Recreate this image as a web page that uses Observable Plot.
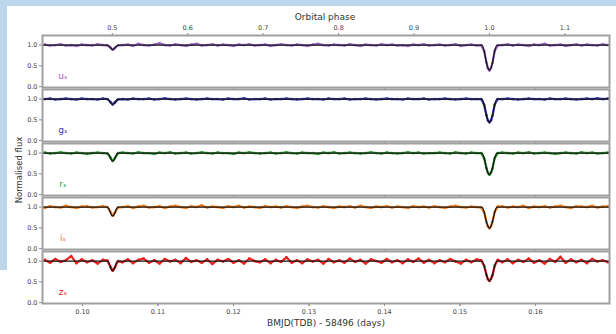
<!DOCTYPE html>
<html><head><meta charset="utf-8">
<script src="https://cdn.jsdelivr.net/npm/d3@7"></script>
<script src="https://cdn.jsdelivr.net/npm/@observablehq/plot@0.6"></script>
<style>
html,body{margin:0;padding:0;}
body{width:616px;height:334px;background:#bcd7ec;position:relative;overflow:hidden;font-family:"DejaVu Sans",sans-serif;}
#paper{position:absolute;left:7px;top:6px;width:609px;height:328px;background:#fff;}
#paper2{position:absolute;left:0;top:270px;width:8px;height:64px;background:#fff;}
#chart{position:absolute;left:0;top:0;}
</style></head><body>
<div id="paper"></div><div id="paper2"></div><div id="chart"></div>
<script>
const bands = ["u","g","r","i","z"];
const bandLabels = ["uₛ","gₛ","rₛ","iₛ","zₛ"];
const bandColors = ["#9a63c8","#3a36b0","#2e9a2e","#f07a1a","#e8221e"];

const time = [0.0950,0.0957,0.0964,0.0971,0.0978,0.0985,0.0992,0.0999,0.1006,0.1013,0.1020,0.1027,
0.1033,0.1037,0.1040,0.1043,0.1047,
0.1053,0.1060,0.1067,0.1074,0.1081,0.1088,0.1095,0.1102,0.1109,0.1116,0.1123,0.1130,0.1137,0.1144,0.1151,0.1158,0.1165,0.1172,0.1179,0.1186,0.1193,0.1200,0.1207,0.1214,0.1221,0.1228,0.1235,0.1242,0.1249,0.1256,0.1263,0.1270,0.1277,0.1284,0.1291,0.1298,0.1305,0.1312,0.1319,0.1326,0.1333,0.1340,0.1347,0.1354,0.1361,0.1368,0.1375,0.1382,0.1389,0.1396,0.1403,0.1410,0.1417,0.1424,0.1431,0.1438,0.1445,0.1452,0.1459,0.1466,0.1473,0.1480,0.1487,0.1494,0.1501,0.1508,0.1515,0.1522,
0.1528,0.1532,0.1535,0.1537,0.1539,0.1541,0.1543,0.1546,0.1550,
0.1556,0.1563,0.1570,0.1577,0.1584,0.1591,0.1598,0.1605,0.1612,0.1619,0.1626,0.1633,0.1640,0.1647,0.1654,0.1661,0.1668,0.1675,0.1682,0.1689,0.1696];

const fluxU = [1.01,0.99,1.00,1.02,0.99,1.00,0.98,1.01,1.00,0.99,1.02,1.00,
0.99,0.94,0.89,0.93,0.99,
1.00,1.01,0.98,1.03,1.00,0.99,1.01,1.04,1.00,0.99,
1.02,1.00,0.98,1.01,1.03,0.99,1.00,1.02,0.99,1.01,
1.00,0.98,1.01,1.00,1.02,0.99,1.00,1.01,0.98,1.00,
1.02,1.00,0.99,1.01,1.00,0.98,1.01,1.03,1.00,0.99,
1.01,1.00,0.99,1.02,1.00,0.98,1.01,1.00,0.99,1.02,
1.00,1.01,0.99,1.00,0.98,1.01,1.00,1.02,0.99,1.00,
1.01,0.99,1.00,1.02,0.98,1.00,1.01,0.99,
1.00,0.85,0.58,0.44,0.39,0.45,0.57,0.86,0.99,
1.00,1.02,0.99,1.01,1.00,0.98,1.01,1.00,1.03,0.99,1.00,1.01,0.98,1.00,1.02,0.99,1.01,1.00,0.99,1.02,1.00];

const fluxG = [1.00,1.01,0.99,1.00,1.01,1.00,0.99,1.01,1.00,1.00,0.99,1.01,
1.00,0.93,0.87,0.92,0.99,
1.00,0.99,1.01,1.00,1.00,1.01,0.99,1.00,1.02,1.00,
0.99,1.00,1.01,1.00,0.99,1.00,1.01,1.00,1.00,0.99,
1.01,1.00,1.00,1.02,0.99,1.00,1.00,1.01,0.99,1.00,
1.00,1.01,1.00,0.99,1.00,1.01,1.00,1.00,0.99,1.01,
1.00,1.00,1.01,0.99,1.00,1.00,1.01,1.00,0.99,1.00,
1.01,1.00,1.00,0.99,1.01,1.00,1.00,1.01,0.99,1.00,
1.00,1.01,1.00,0.99,1.00,1.01,1.00,1.00,
1.00,0.86,0.61,0.48,0.44,0.49,0.60,0.87,1.00,
1.00,1.01,1.00,0.99,1.00,1.01,1.00,1.00,0.99,1.01,1.00,1.00,1.01,1.00,0.99,1.00,1.01,1.00,1.02,1.00,1.01];

const fluxR = [1.01,0.99,1.00,1.02,1.00,0.99,1.01,1.00,0.98,1.00,1.01,1.00,
0.99,0.89,0.81,0.88,1.00,
1.01,1.00,0.99,1.02,1.00,1.00,0.98,1.01,1.00,1.02,
0.99,1.00,1.01,0.99,1.00,1.02,1.00,0.99,1.01,1.00,
1.00,0.98,1.01,1.00,1.02,1.00,0.99,1.00,1.01,0.99,
1.00,1.02,1.00,0.99,1.01,1.00,1.00,0.98,1.01,1.00,
1.02,0.99,1.00,1.01,1.00,0.99,1.00,1.02,1.00,0.99,
1.01,1.00,0.99,1.00,1.02,1.00,1.01,0.99,1.00,1.00,
1.01,1.00,0.99,1.02,1.00,0.99,1.01,1.00,
1.00,0.87,0.64,0.52,0.48,0.53,0.63,0.88,1.00,
1.01,1.00,0.99,1.01,1.00,1.02,0.99,1.00,1.01,1.00,0.98,1.00,1.01,1.00,0.99,1.02,1.00,1.01,0.99,1.00,1.01];

const fluxI = [0.98,1.02,1.00,0.99,1.03,1.00,0.98,1.01,1.02,0.99,1.00,1.02,
1.00,0.88,0.79,0.87,0.99,
1.00,1.02,0.98,1.01,1.03,0.99,1.00,1.02,0.98,1.01,
1.03,1.00,0.98,1.02,1.00,1.04,0.99,1.01,1.00,0.98,
1.02,1.00,1.03,0.99,1.01,1.00,0.98,1.02,1.00,1.01,
0.99,1.02,1.00,0.98,1.01,1.03,1.00,0.99,1.02,1.00,
0.98,1.01,1.00,1.02,0.99,1.03,1.00,0.98,1.01,1.00,
1.02,0.99,1.01,1.00,0.98,1.02,1.00,1.01,0.99,1.02,
1.00,0.98,1.01,1.03,1.00,0.99,1.01,1.00,
0.99,0.87,0.64,0.53,0.49,0.54,0.65,0.88,1.01,
1.02,0.99,1.01,1.00,1.03,0.98,1.01,1.00,1.02,0.99,1.01,1.03,1.00,0.98,1.02,1.01,1.00,1.03,0.99,1.01,1.02];

const fluxZ = [1.03,0.96,1.05,0.98,1.02,1.12,0.95,1.04,0.97,1.02,0.94,1.03,
1.01,0.86,0.77,0.85,1.00,
0.97,1.04,0.95,1.03,1.06,0.96,1.02,0.94,1.05,0.99,
1.03,0.95,1.07,0.98,1.02,0.96,1.04,0.93,1.03,0.99,
1.05,0.96,1.02,0.94,1.06,1.00,0.97,1.04,0.95,1.03,
0.98,1.09,0.96,1.02,0.95,1.04,0.99,1.03,0.94,1.05,
0.97,1.02,0.96,1.06,0.98,1.03,0.94,1.04,1.00,0.96,
1.05,0.97,1.02,0.95,1.04,0.98,1.06,0.96,1.03,0.95,
1.02,0.97,1.05,0.99,0.94,1.03,0.97,1.04,
1.02,0.88,0.67,0.56,0.52,0.57,0.66,0.89,1.03,
0.97,1.04,0.95,1.03,0.98,1.06,0.96,1.02,0.94,1.05,0.98,1.10,0.96,1.04,0.97,1.03,0.95,1.05,0.99,1.02,0.97];

const modelTime = [0.0947,0.1033,0.1036,0.1038,0.1040,0.1042,0.1044,0.1047,0.1529,0.1532,0.1535,0.1537,0.1539,0.1541,0.1543,0.1546,0.1549,0.1698];
const modelU = [1,1,0.96,0.91,0.89,0.91,0.96,1,1,0.86,0.58,0.45,0.39,0.45,0.58,0.86,1,1];
const modelG = [1,1,0.95,0.89,0.87,0.89,0.95,1,1,0.87,0.61,0.49,0.44,0.49,0.61,0.87,1,1];
const modelR = [1,1,0.93,0.84,0.81,0.84,0.93,1,1,0.88,0.64,0.53,0.48,0.53,0.64,0.88,1,1];
const modelI = [1,1,0.92,0.82,0.79,0.82,0.92,1,1,0.88,0.65,0.54,0.49,0.54,0.65,0.88,1,1];
const modelZ = [1,1,0.92,0.80,0.77,0.80,0.92,1,1,0.89,0.67,0.57,0.52,0.57,0.67,0.89,1,1];

const bmjdTicks = [0.10,0.11,0.12,0.13,0.14,0.15,0.16];
const phaseTicks = [0.5,0.6,0.7,0.8,0.9,1.0,1.1];
const phaseOneBmjd = 0.1539;
const periodDays = 0.0999;
const labelT = 0.0974, labelF = 0.25;

const fluxes = {u: fluxU, g: fluxG, r: fluxR, i: fluxI, z: fluxZ};
const models = {u: modelU, g: modelG, r: modelR, i: modelI, z: modelZ};
const data = bands.flatMap(b => time.map((t, k) => ({band: b, t, f: fluxes[b][k]})));
const model = bands.flatMap(b => modelTime.map((t, k) => ({band: b, t, f: models[b][k]})));
const labels = bands.map((b, k) => ({band: b, label: bandLabels[k], t: labelT, f: labelF}));
const phaseBmjd = phaseTicks.map(p => phaseOneBmjd + (p - 1) * periodDays);

const chart = Plot.plot({
  width: 616, height: 334,
  marginLeft: 42, marginRight: 7, marginTop: 33, marginBottom: 28,
  style: {background: "transparent", fontFamily: "DejaVu Sans, sans-serif", fontSize: "6.5px", color: "#444"},
  x: {domain: [0.0947, 0.1698], axis: null},
  y: {domain: [-0.02, 1.23], axis: null},
  fy: {domain: bands, axis: null, paddingInner: 0.03, paddingOuter: 0},
  color: {domain: bands, range: bandColors},
  marks: [
    Plot.line(data, {x: "t", y: "f", fy: "band", stroke: "band", strokeWidth: 2.2}),
    Plot.dot(data, {x: "t", y: "f", fy: "band", fill: "band", r: 1.3}),
    Plot.line(model, {x: "t", y: "f", fy: "band", stroke: "#141414", strokeWidth: 1.3, curve: "monotone-x"}),
    Plot.text(labels, {x: "t", y: "f", fy: "band", text: "label", fill: "band", fontSize: 9}),
    Plot.axisY({ticks: [0, 0.5, 1], tickFormat: ".1f", tickSize: 3, tickPadding: 2, stroke: "#888", label: null}),
    Plot.axisX({anchor: "bottom", ticks: bmjdTicks, tickFormat: ".2f", tickSize: 3, tickPadding: 3, stroke: "#888", label: null}),
    Plot.axisX({anchor: "bottom", ticks: bmjdTicks, tickFormat: () => "", tickSize: 3, stroke: "#888", label: null, facetAnchor: null}),
    Plot.axisX({anchor: "top", ticks: phaseBmjd, tickFormat: d => ((d - phaseOneBmjd) / periodDays + 1).toFixed(1), tickSize: 3, tickPadding: 3, stroke: "#888", label: null}),
    Plot.frame({stroke: "#a0a0a0", strokeWidth: 2})
  ]
});
document.getElementById("chart").appendChild(chart);

const svg = d3.select(chart);
svg.append("text").attr("x", 325).attr("y", 20).attr("text-anchor", "middle")
  .attr("font-size", "9px").attr("fill", "#333").text("Orbital phase");
svg.append("text").attr("x", 326).attr("y", 326).attr("text-anchor", "middle")
  .attr("font-size", "9px").attr("fill", "#333").text("BMJD(TDB) - 58496 (days)");
svg.append("text").attr("transform", "translate(22,170) rotate(-90)").attr("text-anchor", "middle")
  .attr("font-size", "8.5px").attr("fill", "#333").text("Normalised flux");
</script></body></html>
